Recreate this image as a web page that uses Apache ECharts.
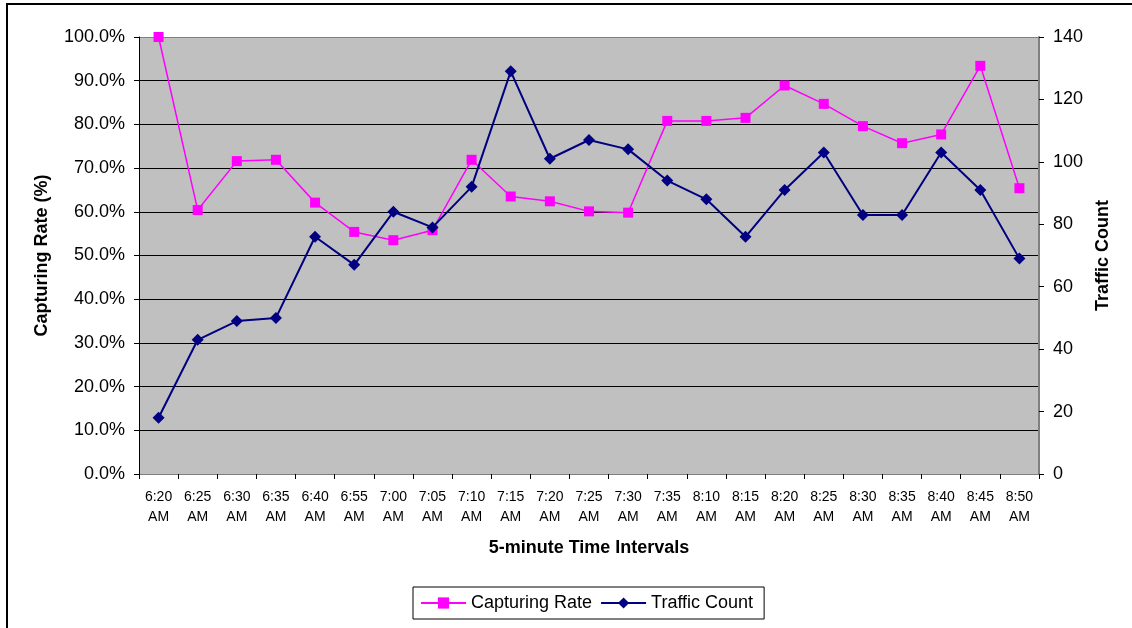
<!DOCTYPE html>
<html>
<head>
<meta charset="utf-8">
<script src="https://cdn.jsdelivr.net/npm/echarts@6/dist/echarts.min.js"></script>
<style>
html,body{margin:0;padding:0;background:#fff;}
#chart{width:1132px;height:628px;}
</style>
</head>
<body>
<div id="chart"></div>
<script>
var categories = ['6:20\nAM','6:25\nAM','6:30\nAM','6:35\nAM','6:40\nAM','6:55\nAM','7:00\nAM','7:05\nAM','7:10\nAM','7:15\nAM','7:20\nAM','7:25\nAM','7:30\nAM','7:35\nAM','8:10\nAM','8:15\nAM','8:20\nAM','8:25\nAM','8:30\nAM','8:35\nAM','8:40\nAM','8:45\nAM','8:50\nAM'];
var capturingRate = [100.0, 60.4, 71.6, 71.9, 62.1, 55.4, 53.5, 55.8, 71.9, 63.5, 62.4, 60.1, 59.8, 80.8, 80.8, 81.5, 88.9, 84.7, 79.6, 75.7, 77.7, 93.4, 65.4];
var trafficCount = [18, 43, 49, 50, 76, 67, 84, 79, 92, 129, 101, 107, 104, 94, 88, 76, 91, 103, 83, 83, 103, 91, 69];
var seriesNames = ['Capturing Rate', 'Traffic Count'];
var leftAxisTitle = 'Capturing Rate (%)';
var rightAxisTitle = 'Traffic Count';
var xAxisTitle = '5-minute Time Intervals';

var FONT = '"Liberation Sans", Arial, sans-serif';
var chart = echarts.init(document.getElementById('chart'), null, {renderer: 'canvas'});
var splitColors = ['#000','#000','#000','#000','#000','#000','#000','#000','#000','#000','#808080'];
chart.setOption({
  animation: false,
  backgroundColor: '#fff',
  textStyle: {fontFamily: FONT},
  graphic: [
    {type: 'line', shape: {x1: 6, y1: 4, x2: 1132, y2: 4}, style: {stroke: '#000', lineWidth: 2}, silent: true},
    {type: 'line', shape: {x1: 7, y1: 4, x2: 7, y2: 628}, style: {stroke: '#000', lineWidth: 2}, silent: true}
  ],
  grid: {left: 139, top: 37, width: 900, height: 437, show: true, backgroundColor: '#C0C0C0', borderWidth: 0},
  legend: {
    data: seriesNames,
    left: 413, top: 587,
    orient: 'horizontal',
    padding: [7, 11, 7, 7],
    itemGap: 8,
    itemWidth: 45, itemHeight: 14,
    borderColor: '#000', borderWidth: 1,
    textStyle: {fontFamily: FONT, fontSize: 18, color: '#000'}
  },
  xAxis: {
    type: 'category',
    data: categories,
    boundaryGap: true,
    name: xAxisTitle,
    nameLocation: 'middle',
    nameGap: 65,
    nameTextStyle: {fontFamily: FONT, fontSize: 18, fontWeight: 'bold', color: '#000', verticalAlign: 'top'},
    axisLine: {lineStyle: {color: '#808080', width: 1}},
    axisTick: {show: true, alignWithLabel: false, length: 5, lineStyle: {color: '#000'}},
    axisLabel: {fontFamily: FONT, fontSize: 14, color: '#000', lineHeight: 20, margin: 13, interval: 0},
    splitLine: {show: false}
  },
  yAxis: [
    {
      type: 'value', min: 0, max: 100, interval: 10, position: 'left',
      name: leftAxisTitle, nameLocation: 'middle', nameGap: 88,
      nameTextStyle: {fontFamily: FONT, fontSize: 18, fontWeight: 'bold', color: '#000'},
      axisLine: {show: true, lineStyle: {color: '#000'}},
      axisTick: {show: true, length: 5, lineStyle: {color: '#000'}},
      axisLabel: {fontFamily: FONT, fontSize: 18, color: '#000', margin: 14, formatter: function (v) { return v.toFixed(1) + '%'; }},
      splitLine: {show: true, lineStyle: {color: splitColors, width: 1}}
    },
    {
      type: 'value', min: 0, max: 140, interval: 20, position: 'right',
      name: rightAxisTitle, nameLocation: 'middle', nameGap: 55,
      nameTextStyle: {fontFamily: FONT, fontSize: 18, fontWeight: 'bold', color: '#000'},
      axisLine: {show: true, lineStyle: {color: '#808080', width: 2}},
      axisTick: {show: true, length: 5, lineStyle: {color: '#000'}},
      axisLabel: {fontFamily: FONT, fontSize: 18, color: '#000', margin: 14},
      splitLine: {show: false}
    }
  ],
  series: [
    {
      name: seriesNames[0], type: 'line', yAxisIndex: 0, data: capturingRate,
      symbol: 'rect', symbolSize: 10,
      lineStyle: {color: '#FF00FF', width: 1.5},
      itemStyle: {color: '#FF00FF'}, z: 3
    },
    {
      name: seriesNames[1], type: 'line', yAxisIndex: 1, data: trafficCount,
      symbol: 'diamond', symbolSize: 12,
      lineStyle: {color: '#000080', width: 2},
      itemStyle: {color: '#000080'}, z: 4
    }
  ]
});
</script>
</body>
</html>
